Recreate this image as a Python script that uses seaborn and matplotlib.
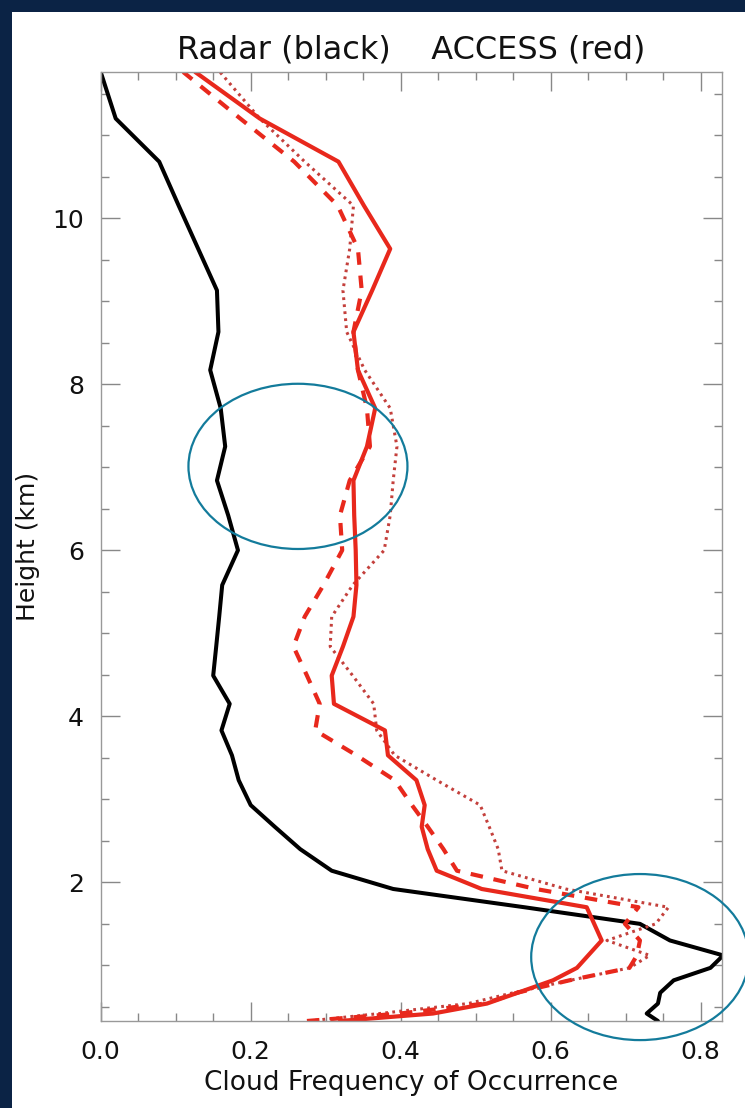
import numpy as np
import pandas as pd
import seaborn as sns
import matplotlib
matplotlib.use("Agg")
import matplotlib.pyplot as plt
from matplotlib.patches import Ellipse, Rectangle

# ---- data (heights in km, cloud frequency of occurrence) ----
heights = [0.33, 0.42, 0.54, 0.67, 0.82, 0.97, 1.12, 1.30, 1.50, 1.70, 1.92, 2.14,
           2.40, 2.67, 2.93, 3.23, 3.53, 3.83, 4.15, 4.49, 4.84, 5.20, 5.58, 6.00,
           6.42, 6.84, 7.25, 7.71, 8.17, 8.63, 9.13, 9.63, 10.15, 10.68, 11.20, 11.76]

radar = [0.743, 0.728, 0.743, 0.746, 0.764, 0.813, 0.830, 0.759, 0.719, 0.565, 0.390, 0.308,
         0.266, 0.232, 0.200, 0.184, 0.175, 0.161, 0.172, 0.150, 0.154, 0.158, 0.162, 0.183,
         0.170, 0.155, 0.166, 0.160, 0.146, 0.157, 0.155, 0.130, 0.104, 0.078, 0.020, 0.000]

access_solid = [0.319, 0.443, 0.515, 0.556, 0.603, 0.635, 0.650, 0.668, 0.658, 0.648, 0.508, 0.448,
                0.436, 0.428, 0.432, 0.421, 0.383, 0.379, 0.311, 0.308, 0.323, 0.337, 0.341, 0.340,
                0.338, 0.337, 0.355, 0.366, 0.343, 0.337, 0.362, 0.386, 0.351, 0.317, 0.212, 0.126]

access_dashed = [0.275, 0.399, 0.512, 0.555, 0.625, 0.705, 0.715, 0.719, 0.699, 0.717, 0.580, 0.475,
                 0.457, 0.436, 0.415, 0.392, 0.341, 0.286, 0.292, 0.275, 0.257, 0.272, 0.297, 0.322,
                 0.319, 0.332, 0.359, 0.355, 0.343, 0.337, 0.348, 0.343, 0.316, 0.258, 0.186, 0.110]

access_dotted = [0.277, 0.372, 0.490, 0.550, 0.626, 0.705, 0.732, 0.675, 0.740, 0.757, 0.620, 0.535,
                 0.530, 0.518, 0.506, 0.448, 0.392, 0.368, 0.364, 0.336, 0.306, 0.308, 0.336, 0.378,
                 0.386, 0.390, 0.395, 0.386, 0.352, 0.328, 0.323, 0.332, 0.337, 0.272, 0.212, 0.159]

x_ticks = [0.0, 0.2, 0.4, 0.6, 0.8]
x_ticklabels = ["0.0", "0.2", "0.4", "0.6", "0.8"]
y_ticks = [2, 4, 6, 8, 10]
y_ticklabels = ["2", "4", "6", "8", "10"]

title = "Radar (black)    ACCESS (red)"
xlabel = "Cloud Frequency of Occurrence"
ylabel = "Height (km)"

# ---- style ----
sns.set_theme(style="white")
plt.rcParams["font.family"] = ["DejaVu Sans"]

W, H = 745, 1108
fig = plt.figure(figsize=(W / 100, H / 100), dpi=100, facecolor="#0b2345")
# white slide area
bg = Rectangle((12 / W, 0), 1 - 12 / W, 1 - 12 / H, transform=fig.transFigure,
               facecolor="white", edgecolor="none", zorder=-10)
fig.patches.append(bg)

ax = fig.add_axes([100.7 / W, (H - 1021) / H, (721.7 - 100.7) / W, (1021 - 72) / H])
ax.set_zorder(1)
ax.set_facecolor("white")

red = "#e8281c"
red_dot = "#c4403c"

sns.lineplot(x=radar, y=heights, orient="y", sort=False, estimator=None, ax=ax,
             color="black", linewidth=2.9)
sns.lineplot(x=access_dotted, y=heights, orient="y", sort=False, estimator=None, ax=ax,
             color=red_dot, linewidth=2.2)
ax.lines[-1].set_linestyle((0, (0.9, 1.4)))
sns.lineplot(x=access_dashed, y=heights, orient="y", sort=False, estimator=None, ax=ax,
             color=red, linewidth=3.0)
ax.lines[-1].set_linestyle((0, (3.0, 2.6)))
sns.lineplot(x=access_solid, y=heights, orient="y", sort=False, estimator=None, ax=ax,
             color=red, linewidth=3.0)

ax.set_xlim(0, 0.828)
ax.set_ylim(0.33, 11.76)

ax.set_xticks(x_ticks)
ax.set_xticklabels(x_ticklabels)
ax.set_yticks(y_ticks)
ax.set_yticklabels(y_ticklabels)
ax.set_xticks(np.arange(0.05, 0.83, 0.05), minor=True)
ax.set_yticks(np.arange(0.5, 11.76, 0.5), minor=True)

tick_col = "#888888"
ax.tick_params(which="both", direction="in", top=True, right=True, bottom=True, left=True,
               color=tick_col, width=1.0)
ax.tick_params(which="major", length=14, labelsize=18, labelcolor="#111111")
ax.tick_params(which="minor", length=6)
ax.tick_params(axis="x", which="major", pad=14)
ax.tick_params(axis="y", which="major", pad=12)

for s in ax.spines.values():
    s.set_color("#999999")
    s.set_linewidth(1.0)
    s.set_visible(True)

ax.set_xlabel(xlabel, fontsize=19, labelpad=4, color="#111111")
ax.set_ylabel(ylabel, fontsize=18, labelpad=9, color="#111111")
ax.set_title(title, fontsize=23, pad=10, color="#111111")

# annotation ellipses
ell_col = "#137b9b"
ax.add_patch(Ellipse((0.263, 7.01), 0.292, 1.99, fill=False, edgecolor=ell_col,
                     linewidth=1.6, clip_on=False, zorder=5))
ax.add_patch(Ellipse((0.719, 1.10), 0.29, 2.0, fill=False, edgecolor=ell_col,
                     linewidth=1.6, clip_on=False, zorder=5))

fig.savefig("out.png", dpi=100, facecolor=fig.get_facecolor())
